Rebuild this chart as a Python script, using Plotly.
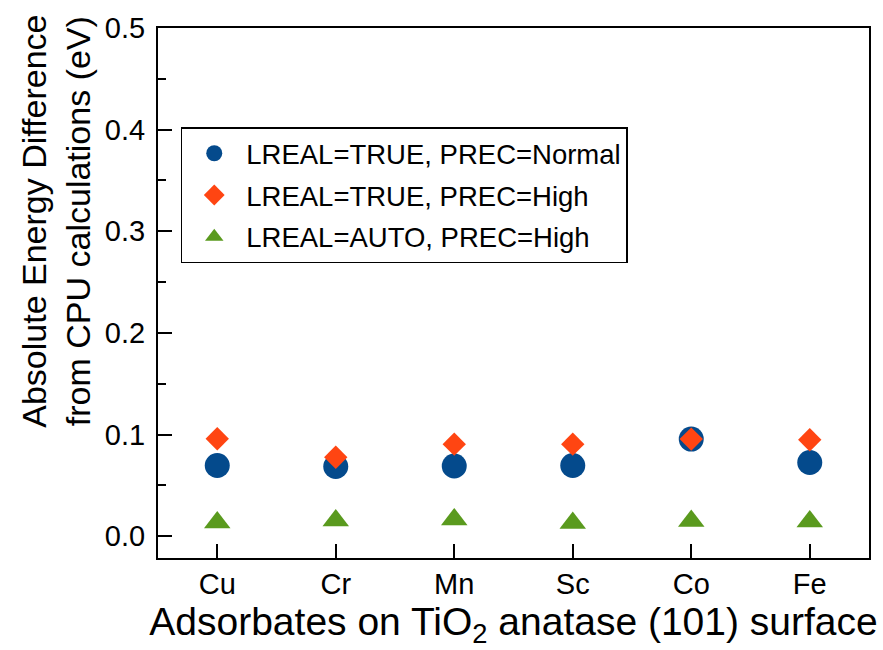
import plotly.graph_objects as go

categories = ["Cu", "Cr", "Mn", "Sc", "Co", "Fe"]
series_names = ["LREAL=TRUE, PREC=Normal", "LREAL=TRUE, PREC=High", "LREAL=AUTO, PREC=High"]
normal_true = [0.0695, 0.0685, 0.069, 0.0695, 0.0955, 0.0725]
high_true = [0.0958, 0.0777, 0.0905, 0.0905, 0.0955, 0.0949]
high_auto = [0.0135, 0.0155, 0.0165, 0.0130, 0.0150, 0.0145]
y_ticks = [0.0, 0.1, 0.2, 0.3, 0.4, 0.5]
y_tick_labels = ["0.0", "0.1", "0.2", "0.3", "0.4", "0.5"]

FONT = "Liberation Sans, Arial, sans-serif"
colors = ["#044a8c", "#ff4512", "#5a9a1e"]
symbols = ["circle", "diamond", "triangle-up"]
sizes = [25, 18, 23]
data = [normal_true, high_true, high_auto]

fig = go.Figure()
for i in range(3):
    fig.add_trace(go.Scatter(
        x=categories, y=data[i], mode="markers", name=series_names[i],
        legendgroup=f"g{i}",
        marker=dict(symbol=symbols[i], size=sizes[i], color=colors[i], line=dict(width=0)),
    ))

fig.update_layout(
    width=883, height=650,
    margin=dict(l=158, r=13, t=25, b=92),
    paper_bgcolor="white", plot_bgcolor="white",
    font=dict(family=FONT, color="black"),
    showlegend=True,
    legend=dict(
        x=0.032, y=0.8125, xanchor="left", yanchor="top",
        bgcolor="white", bordercolor="black", borderwidth=1.5,
        font=dict(size=27.5, family=FONT, color="black"),
        itemwidth=54, tracegroupgap=3,
        itemsizing="trace",
    ),
    xaxis=dict(
        type="category", range=[-0.5, 5.5],
        showline=True, linecolor="black", linewidth=2, mirror=True,
        ticks="inside", ticklen=14, tickwidth=2, tickcolor="black",
        tickfont=dict(size=29, family=FONT, color="black"),
        showgrid=False, zeroline=False,
        ticklabelstandoff=-1,
        title=dict(text="Adsorbates on TiO<sub>2</sub> anatase (101) surface",
                   font=dict(size=39, family=FONT, color="black"), standoff=2),
    ),
    yaxis=dict(
        range=[-0.0215, 0.5],
        tickvals=y_ticks, ticktext=y_tick_labels,
        showline=True, linecolor="black", linewidth=2, mirror=True,
        ticks="inside", ticklen=14, tickwidth=2, tickcolor="black",
        minor=dict(ticks="inside", ticklen=8, tickwidth=2, tickcolor="black", dtick=0.05, tick0=0),
        tickfont=dict(size=29, family=FONT, color="black"),
        showgrid=False, zeroline=False,
        ticklabelstandoff=5,
    ),
)

fig.add_annotation(
    text="Absolute Energy Difference<br>from CPU calculations (eV)",
    xref="paper", yref="paper", x=-0.143, y=0.635, xanchor="center", yanchor="middle",
    textangle=-90, showarrow=False, align="center",
    font=dict(size=34, family=FONT, color="black"),
)

fig.write_html("out.html")
